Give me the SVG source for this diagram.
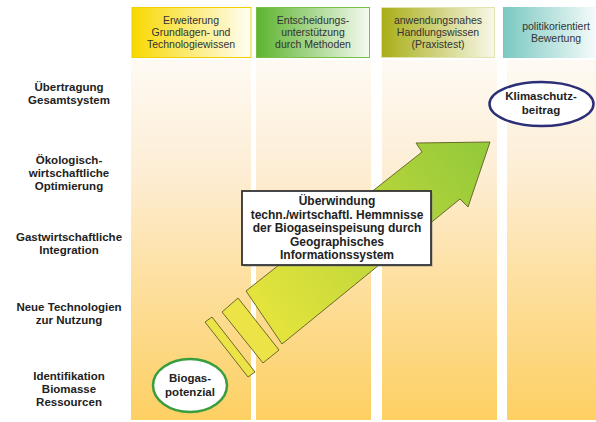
<svg xmlns="http://www.w3.org/2000/svg" width="596" height="422" viewBox="0 0 596 422">
<defs>
<linearGradient id="col" x1="0" y1="0" x2="0" y2="1">
<stop offset="0" stop-color="#fefaf3"/>
<stop offset="0.3" stop-color="#fdeed6"/>
<stop offset="0.6" stop-color="#fde0a2"/>
<stop offset="1" stop-color="#fdd063"/>
</linearGradient>
<linearGradient id="h1" x1="0" y1="0" x2="1" y2="0">
<stop offset="0" stop-color="#f8d800"/>
<stop offset="1" stop-color="#fffef5"/>
</linearGradient>
<linearGradient id="h2" x1="0" y1="0" x2="1" y2="0">
<stop offset="0" stop-color="#5db42f"/>
<stop offset="1" stop-color="#f5faf0"/>
</linearGradient>
<linearGradient id="h3" x1="0" y1="0" x2="1" y2="0">
<stop offset="0" stop-color="#a8ae16"/>
<stop offset="1" stop-color="#f8f8ea"/>
</linearGradient>
<linearGradient id="h4" x1="0" y1="0" x2="1" y2="0">
<stop offset="0" stop-color="#7ac8c1"/>
<stop offset="1" stop-color="#f4fbfa"/>
</linearGradient>
<linearGradient id="arr" gradientUnits="userSpaceOnUse" x1="260" y1="320" x2="480" y2="150">
<stop offset="0" stop-color="#e6e43c"/>
<stop offset="1" stop-color="#95ca3a"/>
</linearGradient>
<style>
.row{font-family:"Liberation Sans",Arial,sans-serif;font-weight:bold;font-size:11.5px;fill:#222;text-anchor:middle}
.hd{font-family:"Liberation Sans",Arial,sans-serif;font-size:10.5px;fill:#333;text-anchor:middle}
.lbl{font-family:"Liberation Sans",Arial,sans-serif;font-weight:bold;font-size:12px;fill:#222;text-anchor:middle}
.stripe{fill:#ece446;stroke:#6e6a2c;stroke-width:1}
</style>
</defs>
<rect width="596" height="422" fill="#ffffff"/>
<g id="columns">
<rect x="131" y="60" width="120" height="360" fill="url(#col)"/>
<rect x="256" y="60" width="115" height="360" fill="url(#col)"/>
<rect x="382" y="60" width="115" height="360" fill="url(#col)"/>
<rect x="507" y="60" width="89" height="360" fill="url(#col)"/>
</g>
<g id="header1">
<rect x="132" y="7.5" width="119" height="50" fill="url(#h1)" stroke="#f0d000" stroke-width="1"/>
<text class="hd" x="191" y="24">Erweiterung</text>
<text class="hd" x="191" y="36">Grundlagen- und</text>
<text class="hd" x="191" y="48">Technologiewissen</text>
</g>
<g id="header2">
<rect x="256.5" y="7.5" width="113" height="50" fill="url(#h2)" stroke="#78c045" stroke-width="1"/>
<text class="hd" x="313" y="24">Entscheidungs-</text>
<text class="hd" x="313" y="36">unterstützung</text>
<text class="hd" x="313" y="48">durch Methoden</text>
</g>
<g id="header3">
<rect x="381.5" y="7.5" width="113" height="50" fill="url(#h3)" stroke="#e2e3b0" stroke-width="1"/>
<text class="hd" x="438" y="24">anwendungsnahes</text>
<text class="hd" x="438" y="36">Handlungswissen</text>
<text class="hd" x="438" y="48">(Praxistest)</text>
</g>
<g id="header4">
<rect x="503" y="7" width="93" height="51" fill="url(#h4)"/>
<text class="hd" x="556" y="30">politikorientiert</text>
<text class="hd" x="556" y="42">Bewertung</text>
</g>
<g id="rows">
<text class="row" x="69" y="91">Übertragung</text>
<text class="row" x="69" y="104">Gesamtsystem</text>
<text class="row" x="69" y="164">Ökologisch-</text>
<text class="row" x="69" y="177">wirtschaftliche</text>
<text class="row" x="69" y="190">Optimierung</text>
<text class="row" x="69" y="241">Gastwirtschaftliche</text>
<text class="row" x="69" y="254">Integration</text>
<text class="row" x="69" y="311">Neue Technologien</text>
<text class="row" x="69" y="324">zur Nutzung</text>
<text class="row" x="69" y="380">Identifikation</text>
<text class="row" x="69" y="393">Biomasse</text>
<text class="row" x="69" y="406">Ressourcen</text>
</g>
<g id="connectors">
<polygon class="stripe" points="205,322 212,317 255,372 248,377"/>
<polygon class="stripe" points="222,312 238,298 279,350 263,363"/>
<polygon points="246,291 422,152 416,143 490,142 468,207 460,199 282,344" fill="url(#arr)" stroke="#6b6a2c" stroke-width="1"/>
</g>
<g id="gis">
<rect x="244" y="193" width="189" height="74" fill="#888" opacity="0.35"/>
<rect x="242" y="191" width="189" height="74" fill="#ffffff" stroke="#333" stroke-width="1.8"/>
<text class="lbl" x="337" y="205">Überwindung</text>
<text class="lbl" x="337" y="218.5">techn./wirtschaftl. Hemmnisse</text>
<text class="lbl" x="337" y="232">der Biogaseinspeisung durch</text>
<text class="lbl" x="337" y="245.5">Geographisches</text>
<text class="lbl" x="337" y="259">Informationssystem</text>
</g>
<g id="biogas">
<ellipse cx="190" cy="385.5" rx="37" ry="26.5" fill="#ffffff" stroke="#3a9e3e" stroke-width="2.5"/>
<text class="lbl" x="190" y="382" style="font-size:11.5px">Biogas-</text>
<text class="lbl" x="190" y="395.5" style="font-size:11.5px">potenzial</text>
</g>
<g id="klima">
<ellipse cx="541.5" cy="104" rx="52" ry="22" fill="#ffffff" stroke="#2c2f78" stroke-width="2.5"/>
<text class="lbl" x="541" y="100" style="font-size:11.5px">Klimaschutz-</text>
<text class="lbl" x="541" y="114" style="font-size:11.5px">beitrag</text>
</g>
</svg>
